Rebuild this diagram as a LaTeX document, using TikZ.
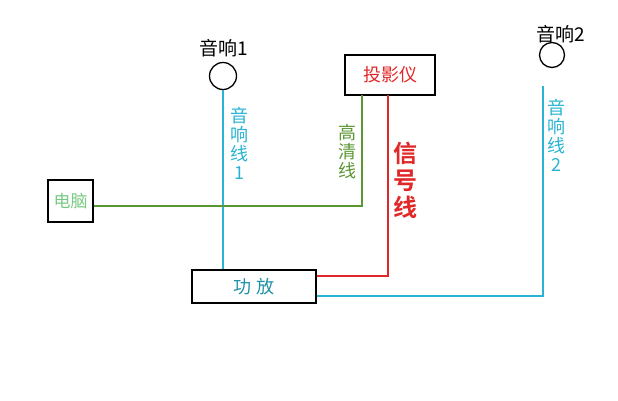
\documentclass[tikz,border=0pt]{standalone}
\usepackage{fontspec}
\newfontfamily\cjk{Noto Sans CJK SC}[BoldFont={Noto Sans CJK SC Bold}]
\definecolor{wire}{RGB}{40,180,210}
\definecolor{hd}{RGB}{90,150,50}
\definecolor{sig}{RGB}{225,40,40}
\definecolor{pc}{RGB}{120,200,130}
\tikzset{
  box/.style={draw, line width=1.3pt, inner sep=0pt},
  spk/.style={draw, line width=1.3pt, circle, minimum size=27pt, inner sep=0pt},
  vlabel/.style={font=\cjk\fontsize{18}{19}\selectfont, align=center},
  wireline/.style={line width=1.4pt}
}
\begin{document}
\begin{tikzpicture}[x=1pt,y=-1pt]
  \useasboundingbox (0,0) rectangle (618,400);
  \node [spk] (s1) at (223,76) {};
  \node [font=\cjk\fontsize{19}{19}\selectfont] at (224,48) {音响1};
  \node [spk, minimum size=25pt] (s2) at (552,55) {};
  \node [font=\cjk\fontsize{19}{19}\selectfont] at (561,34) {音响2};
  \node [box, minimum width=90pt, minimum height=40pt, text=sig, font=\cjk\fontsize{18}{18}\selectfont] (proj) at (390,75) {投影仪};
  \node [box, minimum width=45pt, minimum height=42pt, text=pc, font=\cjk\fontsize{17}{18}\selectfont] (pc) at (70.5,201) {电脑};
  \node [box, minimum width=124pt, minimum height=33pt, text=wire!80!black, font=\cjk\fontsize{18}{18}\selectfont] (amp) at (254,286.5) {功\ 放};
  \coordinate (s2b) at (543,86);
  \draw [wireline, wire] (s1.south) -- (s1.south |- amp.north);
  \draw [wireline, hd] (pc.east |- 0,206) -- (362,206) -- (362,95);
  \draw [wireline, sig] (amp.east |- 0,276) -- (388,276) -- (388,95);
  \draw [wireline, wire] (amp.east |- 0,296) -- (543,296) -- (s2b);
  \node [vlabel, text=wire] at (239,143) {音\\响\\线\\1};
  \node [vlabel, text=hd] at (347,152) {高\\清\\线};
  \node [vlabel, text=sig, font=\cjk\bfseries\fontsize{24}{27}\selectfont] at (405,180) {信\\号\\线};
  \node [vlabel, text=wire] at (556,135) {音\\响\\线\\2};
\end{tikzpicture}
\end{document}
